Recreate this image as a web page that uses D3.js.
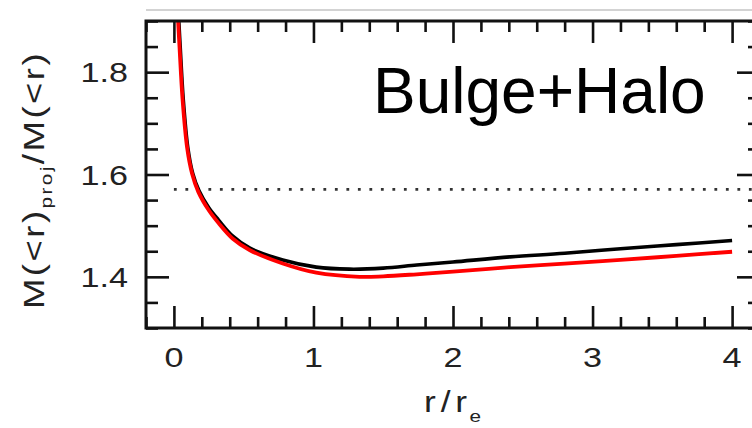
<!DOCTYPE html>
<html>
<head>
<meta charset="utf-8">
<script src="https://cdn.jsdelivr.net/npm/d3@7"></script>
<style>
  html, body { margin: 0; padding: 0; background: #fff; }
  svg { display: block; }
  text { font-family: "Liberation Sans", Arial, sans-serif; }
</style>
</head>
<body>
<svg id="chart" width="752" height="428"></svg>
<script>
// r / r_e sample radii and projected-to-3D mass ratios
const blackR   = [0.035, 0.045, 0.067, 0.10, 0.135, 0.18, 0.25, 0.32, 0.42, 0.545, 0.78, 1.02, 1.26, 1.5, 1.74, 2.0, 2.41, 2.8, 3.2, 3.6, 4.0];
const blackVal = [1.90, 1.85, 1.747, 1.652, 1.602, 1.568, 1.535, 1.511, 1.48, 1.456, 1.433, 1.419, 1.415, 1.417, 1.423, 1.429, 1.439, 1.446, 1.455, 1.463, 1.471];
const redR     = [0.03, 0.04, 0.062, 0.095, 0.13, 0.175, 0.25, 0.32, 0.42, 0.545, 0.78, 1.02, 1.33, 1.5, 1.74, 2.0, 2.41, 2.8, 3.2, 3.6, 4.0];
const redVal   = [1.90, 1.85, 1.747, 1.652, 1.602, 1.566, 1.530, 1.505, 1.475, 1.452, 1.426, 1.408, 1.400, 1.401, 1.405, 1.410, 1.419, 1.426, 1.433, 1.441, 1.449];

// reference level pi/2
const refLevel = [Math.PI / 2];

// axis ticks
const xMajor = [0, 1, 2, 3, 4];
const xMinor = d3.range(-1, 22).map(i => +(i * 0.2).toFixed(2)).filter(v => Math.abs(v - Math.round(v)) > 1e-6);
const yMajor = [1.4, 1.6, 1.8];
const yMinor = d3.range(26, 39).map(i => +(i * 0.05).toFixed(2)).filter(v => !yMajor.some(m => Math.abs(m - v) < 1e-6));

const panelLabel = "Bulge+Halo";

const svg = d3.select("#chart");
const L = 146, R = 760, T = 21, B = 328;
const x = d3.scaleLinear().domain([-0.2, 4.2]).range([L, R]);
const y = d3.scaleLinear().domain([1.3, 1.9]).range([B, T]);
const STRETCH = 1.22;

// edge of the panel above
svg.append("line").attr("x1", L).attr("x2", 752).attr("y1", 10).attr("y2", 10)
  .attr("stroke", "#c4c4c4").attr("stroke-width", 1.5);

// tail of the panel-above tick label
svg.append("clipPath").attr("id", "topclip").append("rect")
  .attr("x", 90).attr("y", 8).attr("width", 50).attr("height", 20);
svg.append("text").attr("clip-path", "url(#topclip)")
  .attr("transform", `translate(128,17) scale(${STRETCH},1)`)
  .attr("text-anchor", "end").attr("font-size", 28).attr("fill", "#222").text("0");

// clip for curves
svg.append("clipPath").attr("id", "plotclip").append("rect")
  .attr("x", L).attr("y", T).attr("width", R - L).attr("height", B - T);

const plot = svg.append("g").attr("clip-path", "url(#plotclip)");

// dotted pi/2 line
plot.selectAll("line.ref").data(refLevel).join("line")
  .attr("class", "ref")
  .attr("x1", x(0)).attr("x2", R)
  .attr("y1", d => y(d)).attr("y2", d => y(d))
  .attr("stroke", "#333").attr("stroke-width", 2.8)
  .attr("stroke-dasharray", "2.8 8.7");

const line = d3.line().curve(d3.curveCatmullRom.alpha(0.5)).x(d => x(d[0])).y(d => y(d[1]));

plot.append("path").datum(d3.zip(blackR, blackVal))
  .attr("d", line).attr("fill", "none").attr("stroke", "#000").attr("stroke-width", 3.6);
plot.append("path").datum(d3.zip(redR, redVal))
  .attr("d", line).attr("fill", "none").attr("stroke", "#ff0000").attr("stroke-width", 3.8);

// ticks (all pointing inward)
function tickStyle(g) {
  g.select(".domain").remove();
  g.selectAll(".tick line").attr("stroke", "#111").attr("stroke-width", 2.6);
  g.selectAll(".tick text").remove();
}
svg.append("g").attr("transform", `translate(0,${B})`)
  .call(d3.axisBottom(x).tickValues(xMajor).tickSize(-22)).call(tickStyle);
svg.append("g").attr("transform", `translate(0,${B})`)
  .call(d3.axisBottom(x).tickValues(xMinor).tickSize(-11)).call(tickStyle);
svg.append("g").attr("transform", `translate(0,${T})`)
  .call(d3.axisTop(x).tickValues(xMajor).tickSize(-22)).call(tickStyle);
svg.append("g").attr("transform", `translate(0,${T})`)
  .call(d3.axisTop(x).tickValues(xMinor).tickSize(-11)).call(tickStyle);
svg.append("g").attr("transform", `translate(${L},0)`)
  .call(d3.axisLeft(y).tickValues(yMajor).tickSize(-23)).call(tickStyle);
svg.append("g").attr("transform", `translate(${L},0)`)
  .call(d3.axisLeft(y).tickValues(yMinor).tickSize(-12)).call(tickStyle);
svg.append("g").attr("transform", `translate(${R},0)`)
  .call(d3.axisRight(y).tickValues(yMajor).tickSize(-23)).call(tickStyle);
svg.append("g").attr("transform", `translate(${R},0)`)
  .call(d3.axisRight(y).tickValues(yMinor).tickSize(-12)).call(tickStyle);

// frame
svg.append("rect").attr("x", L).attr("y", T).attr("width", R - L).attr("height", B - T)
  .attr("fill", "none").attr("stroke", "#111").attr("stroke-width", 3);

// tick labels
svg.append("g").selectAll("text").data(xMajor).join("text")
  .attr("transform", d => `translate(${x(d)},367) scale(${STRETCH},1)`)
  .attr("text-anchor", "middle").attr("font-size", 28).attr("fill", "#222")
  .text(d => d);
svg.append("g").selectAll("text").data(yMajor).join("text")
  .attr("transform", d => `translate(128,${y(d) + 10}) scale(${STRETCH},1)`)
  .attr("text-anchor", "end").attr("font-size", 28).attr("fill", "#222")
  .text(d => d3.format(".1f")(d));

// x-axis title r/r_e
const xt = svg.append("text")
  .attr("transform", `translate(424,412) scale(${STRETCH},1)`)
  .attr("font-size", 29).attr("fill", "#222").attr("letter-spacing", 4);
xt.append("tspan").text("r/r");
xt.append("tspan").attr("font-size", 17).attr("dy", 10).attr("dx", -2).text("e");

// y-axis title M(<r)_proj / M(<r)
const yt = svg.append("text")
  .attr("transform", `translate(44,180) rotate(-90) scale(${STRETCH},1)`)
  .attr("text-anchor", "middle").attr("font-size", 30).attr("fill", "#222")
  .attr("letter-spacing", 2);
yt.append("tspan").text("M(<r)");
yt.append("tspan").attr("font-size", 17).attr("dy", 8).text("proj");
yt.append("tspan").attr("dy", -8).text("/M(<r)");

// panel label
svg.append("text").attr("x", 373).attr("y", 113)
  .attr("font-size", 64).attr("fill", "#000").text(panelLabel);
</script>
</body>
</html>
